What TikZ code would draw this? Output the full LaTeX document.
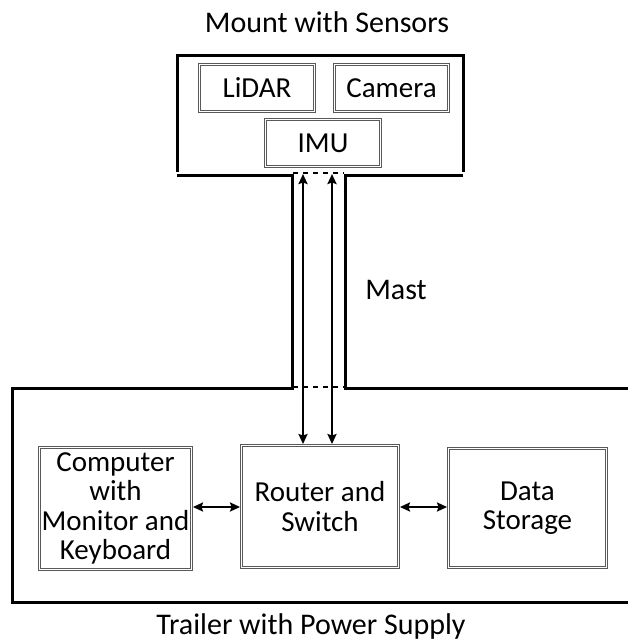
\documentclass[tikz,border=0pt]{standalone}
\usepackage{fontspec}
\setmainfont{Carlito}
\usetikzlibrary{arrows.meta}
\tikzset{
  outline/.style={line width=3pt, line cap=butt},
  unitbox/.style={rectangle, draw=black!65, line width=0.9pt,
    align=center, inner sep=1pt, font=\fontsize{29}{29.5}\selectfont},
  innerframe/.style={draw=black!65, line width=0.8pt},
  caption/.style={font=\fontsize{30}{29.5}\selectfont, inner sep=0pt},
  link/.style={line width=2.2pt, {Stealth[length=10pt,width=9pt,inset=1.5pt]}-{Stealth[length=10pt,width=9pt,inset=1.5pt]}},
  gap/.style={line width=1.4pt, dash pattern=on 5pt off 5pt}
}
\begin{document}
\begin{tikzpicture}[x=1pt,y=-1pt]
\useasboundingbox (0,0) rectangle (628,643);

% sensor mount
\draw[outline] (177,172) -- (177,55) -- (463,55) -- (463,172);
\node[unitbox, minimum width=117pt, minimum height=49pt] (lidar)  at (257,88)  {LiDAR};
\node[unitbox, minimum width=116pt, minimum height=49pt] (camera) at (391.5,88) {Camera};
\node[unitbox, minimum width=117pt, minimum height=49pt] (imu)    at (323,143) {IMU};
\node[caption] (mounttitle) at (327,22) {Mount with Sensors};

% mast and trailer outline
\draw[outline] (177,175) -- (292,175) -- (292,388) -- (12,388) -- (12,602) -- (640,602);
\draw[outline] (463,175) -- (345,175) -- (345,388) -- (640,388);
\draw[gap] (293,173) -- (344,173);
\draw[gap] (293,387) -- (344,387);
\node[caption] (mastlabel) at (396,290) {Mast};

% trailer equipment
\node[unitbox, minimum width=154pt, minimum height=124pt] (computer) at (115.5,508.5)
  {Computer\\with\\Monitor and\\Keyboard};
\node[unitbox, minimum width=159pt, minimum height=124pt] (router) at (320,506.5)
  {Router and\\Switch};
\node[unitbox, minimum width=160pt, minimum height=121pt] (storage) at (527.5,508)
  {Data\\Storage};
\node[caption] (trailertitle) at (311,626) {Trailer with Power Supply};

% inner line of each double frame
\foreach \b in {lidar,camera,imu,computer,router,storage}
  \draw[innerframe] ([shift={(2.3pt,-2.3pt)}]\b.north west) rectangle ([shift={(-2.3pt,2.3pt)}]\b.south east);

% cabling
\coordinate (cableA) at (303,174);
\coordinate (cableB) at (332,174);
\draw[link] (cableA) -- (cableA |- router.north);
\draw[link] (cableB) -- (cableB |- router.north);
\draw[link] (computer.east |- 0,507) -- (router.west |- 0,507);
\draw[link] (router.east |- 0,507) -- (storage.west |- 0,507);
\end{tikzpicture}
\end{document}
